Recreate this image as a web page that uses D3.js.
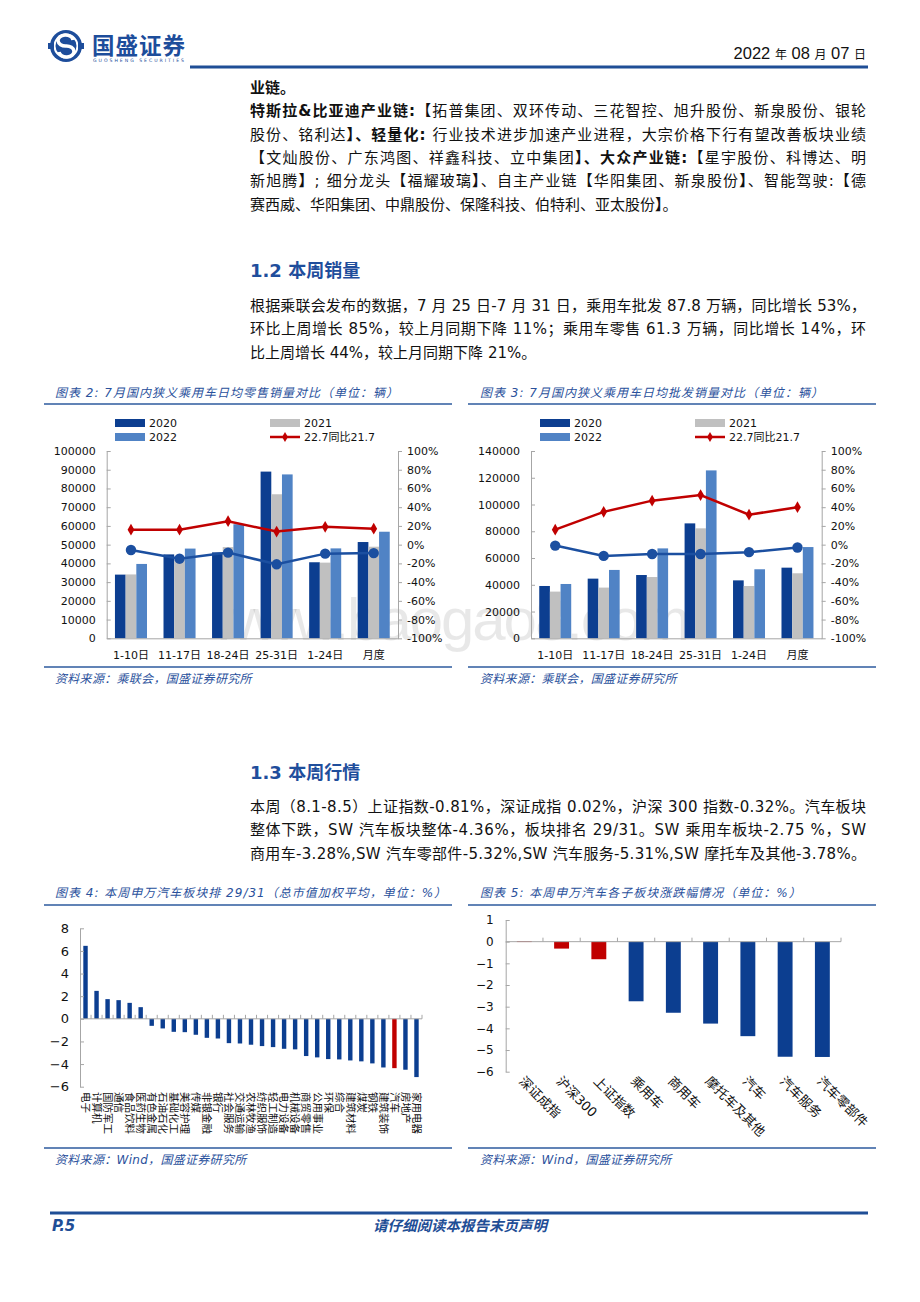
<!DOCTYPE html>
<html><head><meta charset="utf-8">
<script src="https://cdn.jsdelivr.net/npm/d3@7"></script>
<style>body{margin:0;background:#fff}svg{display:block}</style>
</head><body>
<svg id="page" width="920" height="1302"></svg>
<script>
// ---------- data ----------
const periods = ["1-10日","11-17日","18-24日","25-31日","1-24日","月度"];
const retail2020 = [34000,44800,45900,89000,40600,51400];
const retail2021 = [34100,42000,48700,76900,40400,48900];
const retail2022 = [39700,47900,60900,87500,48000,56900];
const retailYoY  = [16,16,25,14,19,17];
const retailVs20 = [-5.7,-15,-8.5,-21,-9.6,-9];
const retailLeftTicks = [0,10000,20000,30000,40000,50000,60000,70000,80000,90000,100000];

const whole2020 = [39100,44600,47300,85900,43300,52800];
const whole2021 = [34900,37900,45800,82200,39100,48600];
const whole2022 = [40600,51100,67200,125500,51600,68200];
const wholeYoY  = [16,35,47,53,32,40];
const wholeVs20 = [-1,-12,-10,-10,-8,-3];
const wholeLeftTicks = [0,20000,40000,60000,80000,100000,120000,140000];
const pctTicks = [-100,-80,-60,-40,-20,0,20,40,60,80,100];

const industries = ["电子","计算机","国防军工","通信","食品饮料","医药生物","有色金属","石油石化","基础化工","美容护理","传媒","非银金融","银行","社会服务","交通运输","农林牧渔","纺织服饰","轻工制造","电力设备","机械设备","商贸零售","公用事业","环保","综合","建筑材料","煤炭","钢铁","建筑装饰","汽车","房地产","家用电器"];
const industryChg = [6.45,2.47,1.74,1.65,1.41,1.03,-0.62,-0.85,-1.15,-1.18,-1.41,-1.68,-1.74,-2.15,-2.18,-2.29,-2.41,-2.5,-2.65,-2.7,-3.29,-3.41,-3.56,-3.59,-3.68,-3.76,-3.94,-4.3,-4.36,-4.5,-5.15];
const industryTicks = [-6,-4,-2,0,2,4,6,8];

const subSectors = ["深证成指","沪深300","上证指数","乘用车","商用车","摩托车及其他","汽车","汽车服务","汽车零部件"];
const subKind = ["指数","指数","指数","板块","板块","板块","板块","板块","板块"];
const subChg = [0.02,-0.32,-0.81,-2.75,-3.28,-3.78,-4.36,-5.31,-5.32];
const subTicks = [-6,-5,-4,-3,-2,-1,0,1];

// ---------- styles ----------
const C = {dark:"#0c3e90", gray:"#c0c0c0", light:"#5083c5", red:"#c00000", blue:"#1b4fa0", title:"#2a519c", rule:"#2d5a9e", axis:"#a6a6a6"};
const CJK = "'Noto Sans CJK SC',sans-serif";
const MIX = "'DejaVu Sans','Noto Sans CJK SC',sans-serif";

const svg = d3.select("#page");

// ---------- watermark (behind everything) ----------
svg.append("text").attr("x",212).attr("y",640).attr("font-family","'Liberation Sans',sans-serif")
  .attr("font-size",60).attr("fill","#000").attr("fill-opacity",0.09).attr("textLength",478).text("www.baogao8.com");

// ---------- header ----------
const hdr = svg.append("g");
hdr.append("circle").attr("cx",66).attr("cy",46).attr("r",16).attr("fill","#1d4d9b");
hdr.append("circle").attr("cx",66).attr("cy",46).attr("r",11.5).attr("fill","none").attr("stroke","#fff").attr("stroke-width",2);
hdr.append("path").attr("d","M73 40 A7.5 5.5 0 1 0 66 46 A7.5 5.5 0 1 1 59 52").attr("fill","none").attr("stroke","#fff").attr("stroke-width",3.5);
hdr.append("rect").attr("x",48).attr("y",43).attr("width",6).attr("height",6).attr("fill","#1d4d9b");
hdr.append("rect").attr("x",78).attr("y",43).attr("width",6).attr("height",6).attr("fill","#1d4d9b");
hdr.append("text").attr("x",92).attr("y",54).attr("font-family",CJK).attr("font-weight",700)
  .attr("font-size",22.5).attr("fill","#1d4d9b").attr("textLength",93).text("国盛证券");
hdr.append("text").attr("x",93).attr("y",62).attr("font-family","'DejaVu Sans',sans-serif")
  .attr("font-size",4.6).attr("fill","#1d4d9b").attr("textLength",91).text("GUOSHENG SECURITIES");
const dt = hdr.append("text").attr("x",866).attr("y",59).attr("text-anchor","end")
  .attr("font-family","'Liberation Sans Narrow','Liberation Sans',sans-serif").attr("font-size",16.5).attr("fill","#111");
[["2022 ",16.5],["年",12],[" 08 ",16.5],["月",12],[" 07 ",16.5],["日",12]].forEach(([t,s])=>{
  dt.append("tspan").attr("font-size",s).attr("font-family", s===12?CJK:null).text(t);
});
svg.append("line").attr("x1",190).attr("x2",868).attr("y1",67).attr("y2",67).attr("stroke","#1f4e96").attr("stroke-width",3);

// ---------- body text ----------
function para(lines, y0, dy, fullFrom, fullTo){
  lines.forEach((segs,i)=>{
    const t = svg.append("text").attr("x",250).attr("y",y0+i*dy).attr("font-family",MIX)
      .attr("font-size",15).attr("fill","#111");
    if(i>=fullFrom && i<fullTo) t.attr("textLength",616).attr("lengthAdjust","spacing");
    segs.forEach(s=>{
      const sp = t.append("tspan").text(s[0]);
      if(s[1]) sp.attr("font-weight",700);
    });
  });
}
para([
  [["业链。",1]],
  [["特斯拉&比亚迪产业链:",1],["【拓普集团、双环传动、三花智控、旭升股份、新泉股份、银轮",0]],
  [["股份、铭利达",0],["】、轻量化:",1],[" 行业技术进步加速产业进程，大宗价格下行有望改善板块业绩",0]],
  [["【文灿股份、广东鸿图、祥鑫科技、立中集团",0],["】、大众产业链:",1],["【星宇股份、科博达、明",0]],
  [["新旭腾",0],["】",1],["; 细分龙头【福耀玻璃",0],["】",1],["、自主产业链【华阳集团、新泉股份",0],["】",1],["、智能驾驶:【德",0]],
  [["赛西威、华阳集团、中鼎股份、保隆科技、伯特利、亚太股份",0],["】",1],["。",0]]
], 93, 23.3, 1, 5);

function heading(txt,y){
  svg.append("text").attr("x",250).attr("y",y).attr("font-family",MIX).attr("font-weight",700)
    .attr("font-size",18).attr("fill","#1f4e9c").text(txt);
}
heading("1.2 本周销量",277);
para([
  [["根据乘联会发布的数据，7 月 25 日-7 月 31 日，乘用车批发 87.8 万辆，同比增长 53%，",0]],
  [["环比上周增长 85%，较上月同期下降 11%；乘用车零售 61.3 万辆，同比增长 14%，环",0]],
  [["比上周增长 44%，较上月同期下降 21%。",0]]
], 311, 23.3, 0, 2);
heading("1.3 本周行情",779);
para([
  [["本周（8.1-8.5）上证指数-0.81%，深证成指 0.02%，沪深 300 指数-0.32%。汽车板块",0]],
  [["整体下跌，SW 汽车板块整体-4.36%，板块排名 29/31。SW 乘用车板块-2.75 %，SW",0]],
  [["商用车-3.28%,SW 汽车零部件-5.32%,SW 汽车服务-5.31%,SW 摩托车及其他-3.78%。",0]]
], 812, 23.3, 0, 3);

// ---------- chart frames ----------
function frame(x, lx1, lx2, ytitle, yrule, ybot, title, source){
  svg.append("text").attr("x",x).attr("y",ytitle).attr("font-family",MIX).attr("font-style","italic")
    .attr("font-size",12).attr("letter-spacing",1).attr("fill",C.title).text(title);
  svg.append("line").attr("x1",lx1).attr("x2",lx2).attr("y1",yrule).attr("y2",yrule).attr("stroke",C.rule).attr("stroke-width",1.6);
  svg.append("line").attr("x1",lx1).attr("x2",lx2).attr("y1",ybot).attr("y2",ybot).attr("stroke",C.rule).attr("stroke-width",1.6);
  svg.append("text").attr("x",x).attr("y",ybot+16).attr("font-family",MIX).attr("font-style","italic")
    .attr("font-size",12).attr("letter-spacing",0.3).attr("fill",C.title).text(source);
}
frame(55,44,452,397,404,667,"图表 2:  7月国内狭义乘用车日均零售销量对比（单位：辆）","资料来源：乘联会，国盛证券研究所");
frame(480,468,876,397,404,667,"图表 3:  7月国内狭义乘用车日均批发销量对比（单位：辆）","资料来源：乘联会，国盛证券研究所");
frame(55,44,452,897,905,1148,"图表 4:  本周申万汽车板块排 29/31（总市值加权平均，单位：%）","资料来源：Wind，国盛证券研究所");
frame(480,468,876,897,905,1148,"图表 5:  本周申万汽车各子板块涨跌幅情况（单位：%）","资料来源：Wind，国盛证券研究所");

function styleAxis(g,size){
  g.attr("font-family",MIX).attr("font-size",size);
  g.selectAll(".domain").attr("stroke",C.axis);
  g.selectAll(".tick line").attr("stroke",C.axis);
  g.selectAll(".tick text").attr("fill","#111");
}

// ---------- combo charts ----------
function combo(cfg){
  const g = svg.append("g");
  const x = d3.scaleBand().domain(periods).range([cfg.x0,cfg.x1]).paddingInner(0.34).paddingOuter(0.17);
  const xs = d3.scaleBand().domain([0,1,2]).range([0,x.bandwidth()]);
  const y = d3.scaleLinear().domain([0,d3.max(cfg.ticks)]).range([cfg.yb,cfg.yt]);
  const y2 = d3.scaleLinear().domain([-100,100]).range([cfg.yb,cfg.yt]);
  const cols=[C.dark,C.gray,C.light];
  [cfg.a,cfg.b,cfg.c].forEach((s,i)=>{
    g.selectAll(null).data(s).enter().append("rect")
      .attr("x",(d,j)=>x(periods[j])+xs(i)).attr("y",d=>y(d))
      .attr("width",xs.bandwidth()).attr("height",d=>cfg.yb-y(d)).attr("fill",cols[i]);
  });
  const la = g.append("g").attr("transform",`translate(${cfg.x0},0)`)
    .call(d3.axisLeft(y).tickValues(cfg.ticks).tickSizeInner(-4).tickSizeOuter(0).tickPadding(11).tickFormat(d3.format("d")));
  styleAxis(la,11);
  const ra = g.append("g").attr("transform",`translate(${cfg.x1},0)`)
    .call(d3.axisRight(y2).tickValues(pctTicks).tickSizeInner(4).tickSizeOuter(0).tickPadding(5).tickFormat(d=>d+"%"));
  styleAxis(ra,11);
  const ba = g.append("g").attr("transform",`translate(0,${cfg.yb})`)
    .call(d3.axisBottom(x).tickSize(0).tickPadding(13));
  styleAxis(ba,11);
  const cx = j=>x(periods[j])+x.bandwidth()/2;
  const line = d3.line().x((d,j)=>cx(j)).y(d=>y2(d));
  g.append("path").attr("d",line(cfg.vs20)).attr("fill","none").attr("stroke",C.blue).attr("stroke-width",2.5);
  g.selectAll(null).data(cfg.vs20).enter().append("circle").attr("cx",(d,j)=>cx(j)).attr("cy",d=>y2(d)).attr("r",5.2).attr("fill",C.blue);
  g.append("path").attr("d",line(cfg.yoy)).attr("fill","none").attr("stroke",C.red).attr("stroke-width",2.5);
  const dia = d3.symbol().type(d3.symbolDiamond).size(40);
  g.selectAll(null).data(cfg.yoy).enter().append("path").attr("d",dia)
    .attr("transform",(d,j)=>`translate(${cx(j)},${y2(d)})`).attr("fill",C.red);
  // legend
  const lg = g.append("g").attr("font-family",MIX).attr("font-size",11).attr("fill","#111");
  const items=[["2020",C.dark,cfg.lx,423,"bar"],["2021",C.gray,cfg.lx2,423,"bar"],["2022",C.light,cfg.lx,437,"bar"],["22.7同比21.7",C.red,cfg.lx2,437,"line"]];
  items.forEach(([t,c,lx,ly,k])=>{
    if(k==="bar") lg.append("rect").attr("x",lx).attr("y",ly-4).attr("width",30).attr("height",8).attr("fill",c);
    else { lg.append("line").attr("x1",lx).attr("x2",lx+30).attr("y1",ly).attr("y2",ly).attr("stroke",c).attr("stroke-width",2.5);
      lg.append("path").attr("d",d3.symbol().type(d3.symbolDiamond).size(30)).attr("transform",`translate(${lx+15},${ly})`).attr("fill",c); }
    lg.append("text").attr("x",lx+34).attr("y",ly+4).text(t);
  });
}
combo({x0:106.7,x1:398,yb:638.3,yt:451,ticks:retailLeftTicks,a:retail2020,b:retail2021,c:retail2022,yoy:retailYoY,vs20:retailVs20,lx:115,lx2:270});
combo({x0:531,x1:821.7,yb:638.3,yt:451,ticks:wholeLeftTicks,a:whole2020,b:whole2021,c:whole2022,yoy:wholeYoY,vs20:wholeVs20,lx:540,lx2:695});

// ---------- chart 4 ----------
(function(){
  const g = svg.append("g");
  const x = d3.scaleBand().domain(industries).range([80,422]).paddingInner(0.6).paddingOuter(0.3);
  const y = d3.scaleLinear().domain([-6,8]).range([1086.7,928.3]);
  g.selectAll(null).data(industryChg).enter().append("rect")
    .attr("x",(d,i)=>x(industries[i])).attr("width",x.bandwidth())
    .attr("y",d=>y(Math.max(0,d))).attr("height",d=>Math.abs(y(d)-y(0)))
    .attr("fill",(d,i)=>industries[i]==="汽车"?C.red:C.dark);
  const ya = g.append("g").attr("transform","translate(80,0)")
    .call(d3.axisLeft(y).tickValues(industryTicks).tickSizeInner(-4).tickSizeOuter(0).tickPadding(11).tickFormat(d3.format("d")));
  styleAxis(ya,13);
  const z = y(0), step = x.step();
  g.append("line").attr("x1",80).attr("x2",422).attr("y1",z).attr("y2",z).attr("stroke",C.axis);
  g.selectAll(null).data(industries).enter().append("line")
    .attr("x1",d=>x(d)-x.paddingInner()*step/2+step).attr("x2",d=>x(d)-x.paddingInner()*step/2+step)
    .attr("y1",z-4).attr("y2",z).attr("stroke",C.axis);
  g.selectAll(null).data(industries).enter().append("text")
    .attr("transform",d=>`translate(${x(d)+x.bandwidth()/2},1092) rotate(90)`)
    .attr("dy","0.35em").attr("font-family",CJK).attr("font-size",10.5).attr("fill","#111").text(d=>d);
})();

// ---------- chart 5 ----------
(function(){
  const g = svg.append("g");
  const x = d3.scaleBand().domain(subSectors).range([505.7,841]).paddingInner(0.6).paddingOuter(0.3);
  const y = d3.scaleLinear().domain([-6,1]).range([1071.7,920]);
  g.selectAll(null).data(subChg).enter().append("rect")
    .attr("x",(d,i)=>x(subSectors[i])).attr("width",x.bandwidth())
    .attr("y",d=>y(Math.max(0,d))).attr("height",d=>Math.max(0.8,Math.abs(y(d)-y(0))))
    .attr("fill",(d,i)=>subKind[i]==="指数"?C.red:C.dark);
  const ya = g.append("g").attr("transform","translate(505.7,0)")
    .call(d3.axisLeft(y).tickValues(subTicks).tickSizeInner(-4).tickSizeOuter(0).tickPadding(12).tickFormat(d3.format("d")));
  styleAxis(ya,12);
  const z = y(0), step = x.step();
  g.append("line").attr("x1",505.7).attr("x2",841).attr("y1",z).attr("y2",z).attr("stroke",C.axis);
  g.selectAll(null).data(subSectors).enter().append("line")
    .attr("x1",d=>x(d)-x.paddingInner()*step/2+step).attr("x2",d=>x(d)-x.paddingInner()*step/2+step)
    .attr("y1",z-4).attr("y2",z).attr("stroke",C.axis);
  g.selectAll(null).data(subSectors).enter().append("text")
    .attr("transform",d=>`translate(${x(d)+x.bandwidth()/2-6},1082) rotate(45)`)
    .attr("font-family",MIX).attr("font-size",13).attr("fill","#111").text(d=>d);
})();

// ---------- footer ----------
svg.append("line").attr("x1",50).attr("x2",868).attr("y1",1213).attr("y2",1213).attr("stroke","#1f4e96").attr("stroke-width",3);
svg.append("text").attr("x",52).attr("y",1231).attr("font-family",MIX).attr("font-weight",700).attr("font-style","italic")
  .attr("font-size",15).attr("fill","#1f4e96").text("P.5");
svg.append("text").attr("x",460).attr("y",1231).attr("text-anchor","middle").attr("font-family",CJK).attr("font-weight",700)
  .attr("font-style","italic").attr("font-size",14.5).attr("fill","#1f4e96").text("请仔细阅读本报告末页声明");
</script>
</body></html>
